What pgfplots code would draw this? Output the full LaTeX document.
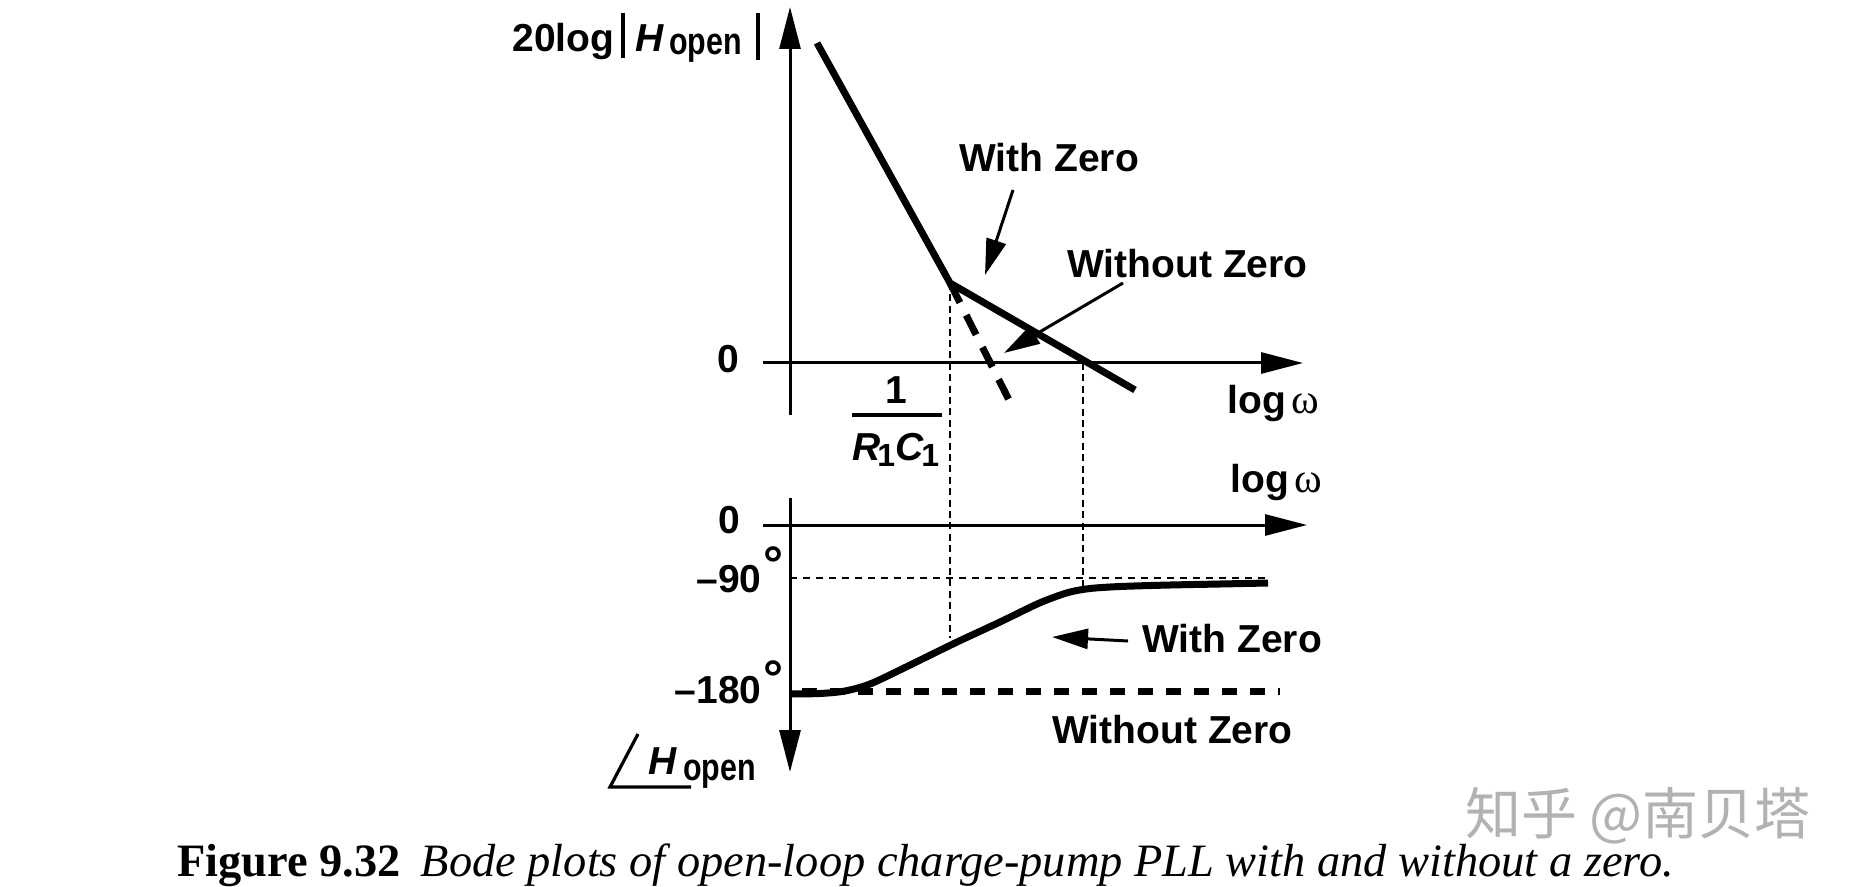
\documentclass[border=0pt]{standalone}
\usepackage{fontspec}
\setmainfont{Liberation Sans}
\newfontfamily\serif{Liberation Serif}
\newfontfamily\narrow[FakeStretch=0.8]{Liberation Sans}
\newfontfamily\cjk{Noto Sans CJK SC}
\usepackage{pgfplots}
\pgfplotsset{compat=1.18}
\usetikzlibrary{arrows.meta}

% magnitude: x = px - 790, y = 363 - py
\pgfplotstableread{
x y
27 320
160 80
345 -27
}\magzero
\pgfplotstableread{
x y
160 80
220 -39
}\magnozero
% phase: x = px - 790, y = py - 525 (axis reversed)
\pgfplotstableread{
x y
0 169
30 168.5
55 166
80 159
114 143
165 118
210 97
245 80
262 73
280 67
300 63.5
330 61.5
380 60
430 59
478 58
}\phzero

\tikzset{
  big/.style={font=\fontsize{19.5}{22}\selectfont\bfseries, inner sep=0pt, anchor=base west},
  sub/.style={font=\fontsize{19}{22}\selectfont\narrow\bfseries, inner sep=0pt, anchor=base west},
  ann/.style={line width=1.5pt, -{Triangle[length=18pt,width=10pt]}},
  dotl/.style={line width=1.3pt, dash pattern=on 3.5pt off 2.2pt},
}
\pgfplotsset{
  bode/.style={scale only axis, axis lines=middle, ticks=none, clip=false,
    axis line style={line width=1.5pt, -{Triangle[length=21pt,width=10.5pt]}}},
}

\begin{document}
\begin{tikzpicture}
\path[use as bounding box] (0,0) rectangle (928pt,-443.5pt);

\begin{axis}[bode, width=270pt, height=204pt,
  xmin=-27, xmax=513, ymin=-52, ymax=356,
  at={(381.5pt,-207.5pt)}, anchor=south west]
\addplot[dotl] coordinates {(160,80) (160,-275)};
\addplot[dotl] coordinates {(293,0) (293,-225)};
\addplot[line width=3.5pt, dash pattern=on 11pt off 7pt] table {\magnozero};
\addplot[line width=3.5pt, line join=miter] table {\magzero};
\end{axis}

\begin{axis}[bode, width=272pt, height=137pt, y dir=reverse,
  xmin=-27, xmax=517, ymin=-27, ymax=247,
  at={(381.5pt,-386pt)}, anchor=south west]
\addplot[dotl, dash pattern=on 3.5pt off 3pt] coordinates {(0,53) (481,53)};
\addplot[line width=3.5pt, dash pattern=on 7.5pt off 6.5pt] coordinates {(12,166) (490,166)};
\addplot[line width=3.5pt, smooth, tension=0.5] table {\phzero};
\end{axis}

\begin{scope}[x=0.5pt, y=-0.5pt]
% upper labels
\node[big] at (512,52) {20log};
\draw[line width=1.8pt] (623,13) -- (623,58);
\node[big, font=\fontsize{19.5}{22}\selectfont\bfseries\itshape] at (635,52) {H};
\node[sub] at (669,55) {open};
\draw[line width=1.8pt] (758,13) -- (758,60);
\node[big] at (717,372) {0};
\node[big, anchor=base] at (896,403) {1};
\draw[line width=2pt] (852,415) -- (942,415);
\node[big, font=\fontsize{19.5}{22}\selectfont\bfseries\itshape] at (852,460) {R};
\node[big, font=\fontsize{16}{18}\selectfont\bfseries] at (877,466) {1};
\node[big, font=\fontsize{19.5}{22}\selectfont\bfseries\itshape] at (895,460) {C};
\node[big, font=\fontsize{16}{18}\selectfont\bfseries] at (921,466) {1};
\node[big] at (959,172) {With Zero};
\node[big] at (1067,278) {Without Zero};
\node[big] at (1227,413) {log};
\node[big, font=\fontsize{21}{24}\selectfont\serif] at (1291,413) {ω};
\draw[ann] (1013,190) -- (985,275);
\draw[ann] (1123,283) -- (1004,353);
% lower labels
\node[big] at (1230,492) {log};
\node[big, font=\fontsize{21}{24}\selectfont\serif] at (1294,492) {ω};
\node[big] at (718,533) {0};
\node[big, anchor=base east] at (762,592) {–90};
\node[big, font=\fontsize{25}{27}\selectfont\bfseries] at (763,581) {°};
\node[big, anchor=base east] at (762,703) {–180};
\node[big, font=\fontsize{25}{27}\selectfont\bfseries] at (763,695) {°};
\node[big] at (1142,652) {With Zero};
\node[big] at (1052,743) {Without Zero};
\draw[ann] (1128,641) -- (1052,637);
\draw[line width=1.6pt] (638,734) -- (610,787) -- (691,787);
\node[big, font=\fontsize{19.5}{22}\selectfont\bfseries\itshape] at (648,774) {H};
\node[sub] at (683,780) {open};
% watermark and caption
\node[big, font=\fontsize{28}{30}\selectfont\cjk, text=black!30] at (1465,834) {知乎 @南贝塔};
\node[big, font=\fontsize{23.2}{26}\selectfont\serif] at (177,876)
  {\textbf{Figure 9.32}\hspace{10pt}\textit{Bode plots of open-loop charge-pump PLL with and without a zero.}};
\end{scope}
\end{tikzpicture}
\end{document}
